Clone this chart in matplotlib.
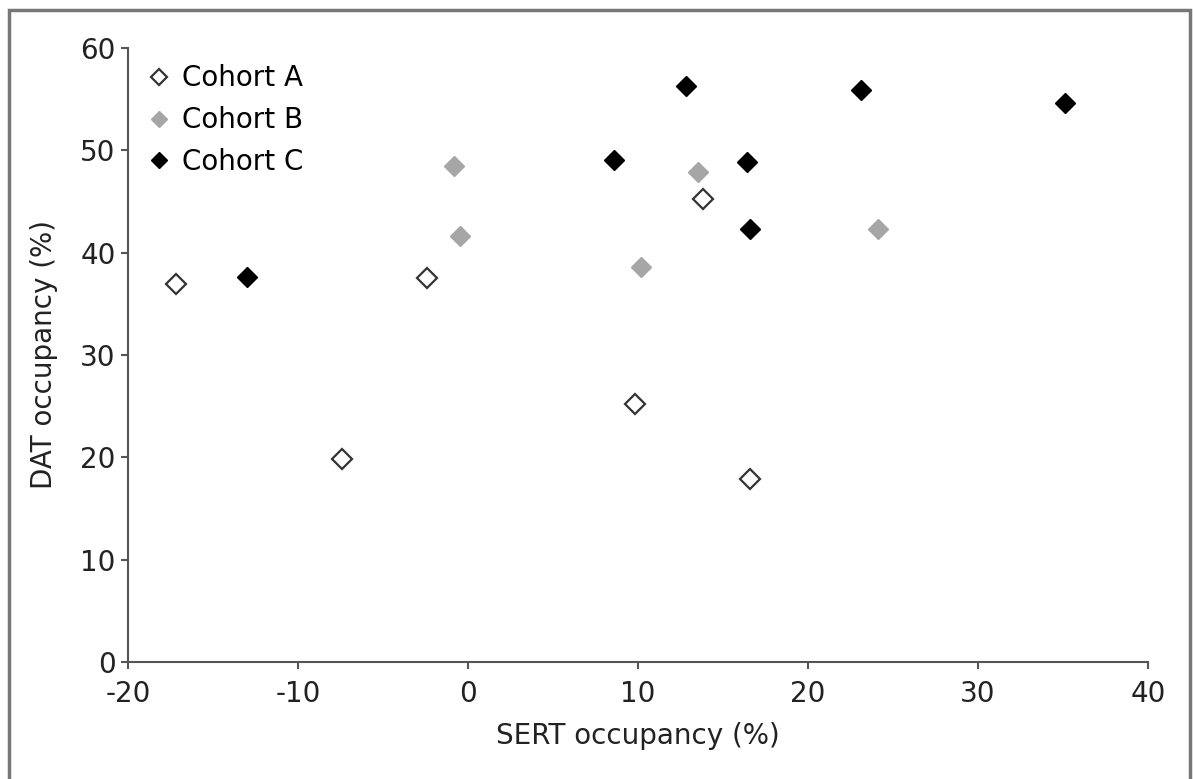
import matplotlib.pyplot as plt
from matplotlib.patches import Rectangle

# SERT / DAT occupancy per cohort
a_sert = [-17.2, -7.4, -2.4, 9.8, 13.8, 16.6]
a_dat = [36.9, 19.8, 37.5, 25.2, 45.2, 17.9]
b_sert = [-0.8, -0.5, 10.2, 13.5, 24.1]
b_dat = [48.5, 41.6, 38.6, 47.9, 42.3]
c_sert = [-13.0, 8.6, 12.8, 16.4, 16.6, 23.1, 35.1]
c_dat = [37.6, 49.1, 56.3, 48.9, 42.3, 55.9, 54.6]

plt.rcParams['font.family'] = ['Verdana', 'DejaVu Sans']
plt.rcParams['axes.unicode_minus'] = False
fs = 20

fig = plt.figure(figsize=(11.93, 7.79), dpi=100)
ax = fig.add_axes([128/1193, 1 - 662/779, (1148 - 128)/1193, (662 - 48)/779])

ms = 10.5
ax.plot(a_sert, a_dat, 'D', ms=ms, mfc='white', mec='#333333', mew=1.6, label='Cohort A')
ax.plot(b_sert, b_dat, 'D', ms=ms, mfc='#a6a6a6', mec='#a6a6a6', label='Cohort B')
ax.plot(c_sert, c_dat, 'D', ms=ms, mfc='black', mec='black', label='Cohort C')

ax.set_xlim(-20, 40)
ax.set_ylim(0, 60)
ax.set_xticks(range(-20, 41, 10))
ax.set_yticks(range(0, 61, 10))
for s in ['top', 'right']:
    ax.spines[s].set_visible(False)
for s in ['left', 'bottom']:
    ax.spines[s].set_color('#555555')
    ax.spines[s].set_linewidth(1.5)
ax.tick_params(direction='out', length=5, width=1.5, color='#555555',
               labelsize=fs, labelcolor='#222222', pad=4)
ax.tick_params(axis='x', pad=8)
ax.set_xlabel('SERT occupancy (%)', fontsize=fs, color='#222222', labelpad=10)
ax.set_ylabel('DAT occupancy (%)', fontsize=fs, color='#222222', labelpad=16)

ax.legend(loc='upper left', bbox_to_anchor=(0.0, 1.005), frameon=False, fontsize=fs,
          markerscale=0.75, handlelength=0.8, handletextpad=0.45, labelspacing=0.5,
          borderaxespad=0.3)

# outer frame
fig.patches.append(Rectangle((9/1193, -0.05), (1190 - 9)/1193, 1.05 - 10/779,
                             transform=fig.transFigure, fill=False,
                             edgecolor='#777777', linewidth=2.5))

fig.savefig('out.png', dpi=100)
